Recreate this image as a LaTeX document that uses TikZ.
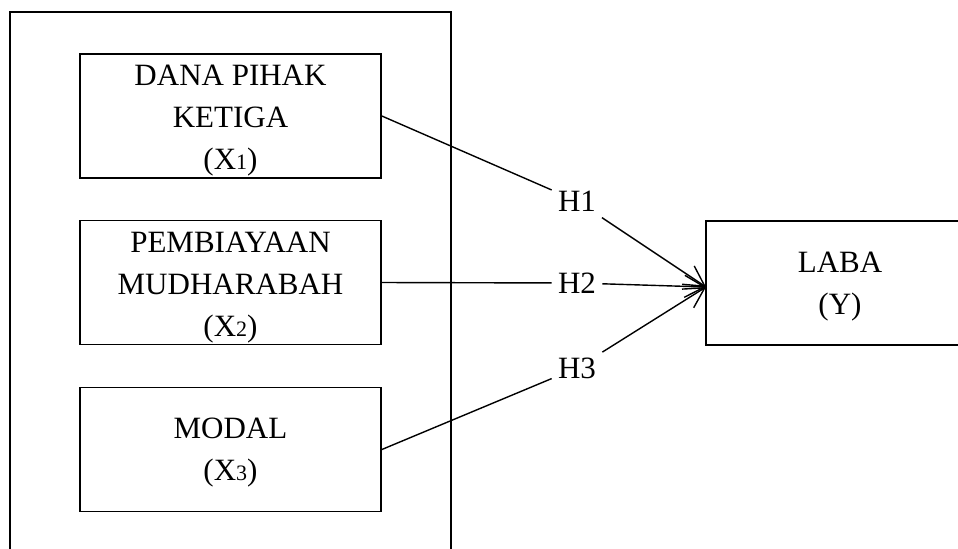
\documentclass[tikz,border=0pt]{standalone}
\usepackage{fontspec}
\setmainfont{Liberation Serif}
\usetikzlibrary{arrows.meta}
\newcommand{\smalldig}[1]{{\fontsize{11}{11}\selectfont #1}}
\begin{document}
\begin{tikzpicture}[x=0.5pt,y=-0.5pt,
  box/.style={draw, line width=0.85pt, rectangle, inner sep=0pt, minimum width=150.5pt, minimum height=62pt},
  txt/.style={anchor=north, inner sep=0pt, align=center, font=\fontsize{15.5}{21}\selectfont},
  hlab/.style={inner sep=3pt, font=\fontsize{15.5}{18}\selectfont},
  conn/.style={line width=0.7pt},
  arr/.style={conn, -{Straight Barb[length=10pt,width=11pt]}}
]
\path[use as bounding box, clip] (0,0) rectangle (958,548);
% outer frame (bottom edge lies beyond the picture)
\draw[line width=0.85pt] (10,570) -- (10,12) -- (451,12) -- (451,570);
% boxes
\node[box] (b1) at (230.5,116) {};
\node[box] (b2) at (230.5,282.5) {};
\node[box] (b3) at (230.5,449.5) {};
\node[box, minimum width=130pt] (laba) at (836,283) {};
% texts
\node[txt] (t1) at (230.5,65) {DANA PIHAK\\KETIGA\\(X\smalldig{1})};
\node[txt] (t2) at (230.5,232) {PEMBIAYAAN\\MUDHARABAH\\(X\smalldig{2})};
\node[txt] (t3) at (230.5,418) {MODAL\\(X\smalldig{3})};
\node[txt] (ty) at (840,252) {LABA\\(Y)};
% hypothesis labels
\node[hlab] (h1) at (577,201) {H1};
\node[hlab] (h2) at (577,283) {H2};
\node[hlab] (h3) at (577,368) {H3};
\coordinate (tip) at (706,287);
% connectors
\draw[conn] (b1.east) -- (h1);
\draw[arr] (h1) -- (tip);
\draw[conn] (b2.east) -- (h2);
\draw[arr] (h2) -- (tip);
\draw[conn] (b3.east) -- (h3);
\draw[arr] (h3) -- (tip);
\end{tikzpicture}
\end{document}
